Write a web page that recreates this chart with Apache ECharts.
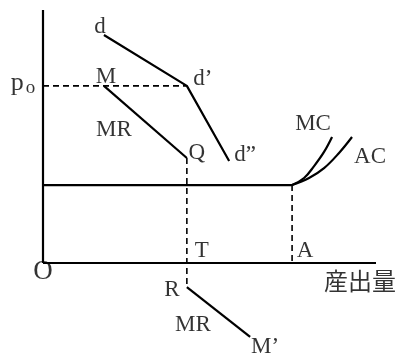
<!DOCTYPE html>
<html>
<head>
<meta charset="utf-8">
<script src="https://cdn.jsdelivr.net/npm/echarts@6/dist/echarts.min.js"></script>
<style>
  html, body { margin: 0; padding: 0; background: #fff; }
  #chart { width: 402px; height: 362px; }
</style>
</head>
<body>
<div id="chart"></div>
<script>
// kinked demand curve, abstract units (x: quantity, y: price)
var axisX = [[0, 0], [10, 0]];
var axisY = [[0, 0], [0, 10]];
var demand = [[1.83, 9.01], [4.32, 7.0], [5.59, 4.03]];       // d - d' - d"
var mrUpper = [[1.83, 7.0], [4.32, 4.15]];                     // M - Q
var mrLower = [[4.32, -0.95], [6.22, -2.92]];                  // R - M'
var costFlat = [[0, 3.08], [7.48, 3.08]];
var mcCurve = [[7.48, 3.08], [7.84, 3.36], [8.14, 3.83], [8.44, 4.39], [8.68, 4.98]];
var acCurve = [[7.48, 3.08], [7.99, 3.36], [8.44, 3.75], [8.89, 4.35], [9.28, 4.98]];
var p0Dash = [[0, 7.0], [4.32, 7.0]];
var qrDash = [[4.32, 4.15], [4.32, -0.95]];
var aDash = [[7.48, 3.08], [7.48, 0]];

var labelNames = ['d', 'd\u2019', 'M', 'MR', 'Q', 'd\u201d', 'MC', 'AC', 'T', 'A', 'R', 'MR', 'M\u2019'];
var labelX = [1.71, 4.80, 1.89, 2.13, 4.62, 6.07, 8.11, 9.82, 4.77, 7.87, 3.87, 4.50, 6.67];
var labelY = [9.33, 7.27, 7.35, 5.26, 4.35, 4.27, 5.49, 4.19, 0.47, 0.47, -1.07, -2.45, -3.32];

var chart = echarts.init(document.getElementById('chart'));

function solid(data, smooth) {
  return {
    type: 'line', data: data, symbol: 'none', smooth: smooth || false,
    lineStyle: { color: '#000', width: 2.2 }, silent: true, animation: false
  };
}
function dashed(data) {
  return {
    type: 'line', data: data, symbol: 'none',
    lineStyle: { color: '#000', width: 1.6, type: [6, 4] }, silent: true, animation: false
  };
}

var labelData = [];
for (var i = 0; i < labelNames.length; i++) {
  labelData.push({ name: labelNames[i], value: [labelX[i], labelY[i]] });
}

var serif = '"Liberation Serif", "DejaVu Serif", serif';

var option = {
  animation: false,
  grid: { left: 43, right: 26, top: 10, bottom: 10.45 },
  xAxis: { type: 'value', min: 0, max: 10, show: false },
  yAxis: { type: 'value', min: -3.5, max: 10, show: false },
  series: [
    solid(axisX), solid(axisY),
    solid(demand), solid(mrUpper), solid(mrLower), solid(costFlat),
    solid(mcCurve, 0.4), solid(acCurve, 0.4),
    dashed(p0Dash), dashed(qrDash), dashed(aDash),
    {
      type: 'scatter', data: labelData, symbolSize: 0, clip: false, silent: true,
      label: {
        show: true, position: 'inside', formatter: '{b}',
        color: '#000', fontFamily: serif, fontSize: 23
      }
    },
    {
      type: 'scatter', symbolSize: 0, clip: false, silent: true,
      data: [{ name: 'O', value: [0.0, -0.36] }],
      label: {
        show: true, position: 'inside', formatter: '{b}',
        color: '#000', fontFamily: serif, fontSize: 27
      }
    },
    {
      type: 'scatter', symbolSize: 0, clip: false, silent: true,
      data: [{ name: 'p0', value: [-0.6, 7.1] }],
      label: {
        show: true, position: 'inside', color: '#000',
        formatter: '{p|p}{s|o}',
        rich: {
          p: { fontFamily: serif, fontSize: 26, color: '#000' },
          s: { fontFamily: serif, fontSize: 19, color: '#000', padding: [10, 0, 0, 2] }
        }
      }
    },
    {
      type: 'scatter', symbolSize: 0, clip: false, silent: true,
      data: [{ name: '産出量', value: [9.52, -0.71] }],
      label: {
        show: true, position: 'inside', formatter: '{b}', color: '#000',
        fontFamily: '"Noto Sans CJK JP"', fontSize: 24
      }
    }
  ]
};
chart.setOption(option);
</script>
</body>
</html>
